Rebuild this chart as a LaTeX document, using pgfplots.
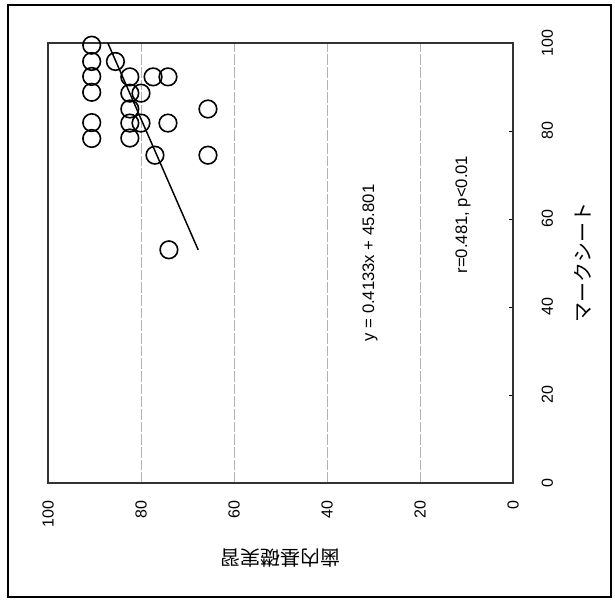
\documentclass[border=0pt]{standalone}
\usepackage{fontspec}
\setmainfont{Liberation Sans}
\newfontfamily\cjk{Noto Sans CJK JP}
\usepackage{pgfplots}
\pgfplotsset{compat=1.18}
\begin{document}
\begin{tikzpicture}[x=0.75pt,y=0.75pt]
\path[use as bounding box] (0,0) rectangle (615,602);
\draw[line width=1.4pt] (8,5) rectangle (611,597);
\begin{axis}[
  at={(36pt,89.25pt)}, anchor=south west,
  scale only axis, width=348.75pt, height=330pt,
  xmin=0, xmax=100, ymin=0, ymax=100, x dir=reverse,
  xtick={0,20,40,60,80,100}, ytick={0,20,40,60,80,100},
  xmajorgrids,
  major grid style={gray!60, line width=0.4pt, dash pattern=on 8pt off 1.5pt},
  axis line style={black!80, line width=0.8pt},
  ytick pos=right, yticklabel pos=right,
  xtick style={draw=none},
  tick align=inside, major tick length=3pt,
  ytick style={black, line width=0.5pt},
  tick label style={font=\fontsize{12}{14}\selectfont},
  /pgf/number format/assume math mode=true,
  xticklabel style={rotate=90, anchor=east},
  xticklabel shift=10pt,
  yticklabel style={rotate=90, anchor=north},
  yticklabel shift=18pt,
  xlabel={\cjk 歯内基礎実習},
  ylabel={\cjk マークシート},
  xlabel style={at={(axis description cs:0.5,-0.17)}, anchor=center, rotate=180, font=\fontsize{15}{17}\selectfont},
  ylabel style={at={(axis description cs:1.15,0.5)}, anchor=center, font=\fontsize{15}{17}\selectfont},
  clip=false,
]
\addplot[only marks, mark=o, mark size=6.6pt, mark options={line width=1.2pt, black}] coordinates {
(90.6,99.5) (90.6,95.8) (90.6,92.4) (90.6,88.8) (90.6,81.9) (90.6,78.3)
(85.5,95.8)
(82.4,92.3) (82.4,88.6) (80.0,88.6) (82.4,85.0) (82.4,81.8) (80.0,81.8) (82.4,78.4)
(77.4,92.3) (74.2,92.3)
(65.6,85.0) (74.2,81.8)
(77.0,74.5) (65.6,74.5) (74.0,53.0)
};
\addplot[black, line width=1.1pt] coordinates {(67.706,53) (87.131,100)};
\node[rotate=90, font=\fontsize{12.5}{14}\selectfont] at (axis cs:30.75,50) {y = 0.4133x + 45.801};
\node[rotate=90, font=\fontsize{12.5}{14}\selectfont] at (axis cs:10.75,61) {r=0.481, p<0.01};
\end{axis}
\end{tikzpicture}
\end{document}
